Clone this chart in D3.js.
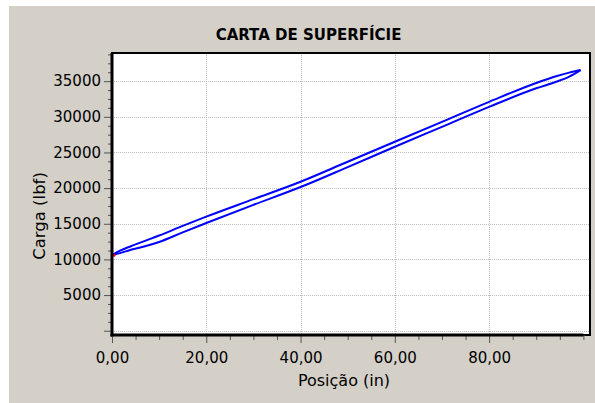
<!DOCTYPE html>
<html><head><meta charset="utf-8">
<script src="https://cdn.jsdelivr.net/npm/d3@7/dist/d3.min.js"></script>
<style>body{margin:0;background:#fff}svg{display:block}</style>
</head><body>
<script>
const title = "CARTA DE SUPERFÍCIE";
const xTitle = "Posição (in)";
const yTitle = "Carga (lbf)";
const xTickValues = [0, 20, 40, 60, 80];
const yTickValues = [0, 5000, 10000, 15000, 20000, 25000, 30000, 35000];
const positions = [0, 1.7, 4, 7, 10, 15, 20, 30, 40, 50, 60, 70, 80, 90, 94.4, 97, 99.4];
const upperLoad = [10600, 11220, 11850, 12600, 13350, 14700, 16000, 18450, 20900, 23700, 26500, 29300, 32100, 34750, 35720, 36200, 36560];
const lowerLoad = [10600, 10880, 11350, 11850, 12450, 13800, 15100, 17650, 20150, 22950, 25800, 28600, 31400, 34000, 34950, 35650, 36560];

const W = 595, H = 403;
const svg = d3.select("body").append("svg").attr("width", W).attr("height", H);
svg.append("rect").attr("x", 9).attr("y", 6).attr("width", W - 9).attr("height", H - 6).attr("fill", "#d4d0c8");

const L = 112, R = 590, T = 53, B = 335;
const x = d3.scaleLinear().domain([0, 101.4]).range([L, R]);
const y = d3.scaleLinear().domain([-600, 38950]).range([B, T]);

svg.append("rect").attr("x", L).attr("y", T).attr("width", R - L).attr("height", B - T).attr("fill", "#fff");

const font = "DejaVu Sans, Verdana, sans-serif";

// grid
const g = svg.append("g");
g.selectAll(".vg").data(xTickValues.filter(d => d > 0)).join("line")
  .attr("x1", d => Math.round(x(d)) + 0.5).attr("x2", d => Math.round(x(d)) + 0.5)
  .attr("y1", T).attr("y2", B)
  .attr("stroke", "#bdbdbd").attr("stroke-dasharray", "1,1");
g.selectAll(".hg").data(yTickValues).join("line")
  .attr("y1", d => Math.round(y(d)) + 0.5).attr("y2", d => Math.round(y(d)) + 0.5)
  .attr("x1", L).attr("x2", R)
  .attr("stroke", "#bdbdbd").attr("stroke-dasharray", "1,1");

// border
svg.append("rect").attr("x", L).attr("y", T).attr("width", R - L).attr("height", B - T)
  .attr("fill", "none").attr("stroke", "#000").attr("stroke-width", 2);

// data
const line = d3.line().x(d => x(d[0])).y(d => y(d[1])).curve(d3.curveMonotoneX);
const lowerPts = positions.map((p, i) => [p, lowerLoad[i]]);
const upperPts = positions.map((p, i) => [p, upperLoad[i]]);
[lowerPts, upperPts].forEach(pts => {
  svg.append("path").attr("d", line(pts))
    .attr("fill", "none").attr("stroke", "#0000ff").attr("stroke-width", 2).attr("stroke-linejoin", "round");
});
svg.append("circle").attr("cx", x(positions[0]) + 2).attr("cy", y(lowerLoad[0])).attr("r", 1.6).attr("fill", "#ff0000");

// Y axis
const yMinor = d3.range(0, 38950, 1250).filter(v => v % 5000 !== 0);
const yAxis = d3.axisLeft(y).tickValues(yTickValues).tickSize(8).tickPadding(3)
  .tickFormat(d => d === 0 ? "" : d3.format("d")(d));
const ya = svg.append("g").attr("transform", `translate(${L},0)`).call(yAxis);
ya.select(".domain").remove();
ya.selectAll(".tick line").attr("stroke", "#555");
ya.selectAll(".tick text").attr("font-family", font).attr("font-size", 15).attr("fill", "#000");
svg.append("g").attr("transform", `translate(${L},0)`)
  .call(d3.axisLeft(y).tickValues(yMinor).tickSize(4).tickFormat(""))
  .call(s => s.select(".domain").remove())
  .selectAll(".tick line").attr("stroke", "#555");
svg.append("line").attr("x1", L).attr("x2", L).attr("y1", T).attr("y2", B + 1.5)
  .attr("stroke", "#000").attr("stroke-width", 3);

// X axis
const xMinor = d3.range(5, 101, 5).filter(v => v % 20 !== 0 || v === 100);
const xAxis = d3.axisBottom(x).tickValues(xTickValues).tickSize(8).tickPadding(9)
  .tickFormat(d => d3.format(".2f")(d).replace(".", ","));
const xa = svg.append("g").attr("transform", `translate(0,${B})`).call(xAxis);
xa.select(".domain").remove();
xa.selectAll(".tick line").attr("stroke", "#555");
xa.selectAll(".tick text").attr("font-family", font).attr("font-size", 15).attr("fill", "#000");
svg.append("g").attr("transform", `translate(0,${B})`)
  .call(d3.axisBottom(x).tickValues(xMinor).tickSize(5).tickFormat(""))
  .call(s => s.select(".domain").remove())
  .selectAll(".tick line").attr("stroke", "#555");
svg.append("line").attr("x1", L - 1.5).attr("x2", x(100)).attr("y1", B).attr("y2", B)
  .attr("stroke", "#000").attr("stroke-width", 3);

// titles
svg.append("text").attr("x", 308.5).attr("y", 40).attr("text-anchor", "middle")
  .attr("font-family", font).attr("font-weight", "bold").attr("font-size", 15).text(title);
svg.append("text").attr("x", 344).attr("y", 386).attr("text-anchor", "middle")
  .attr("font-family", font).attr("font-size", 16).text(xTitle);
svg.append("text").attr("transform", "translate(45,216) rotate(-90)").attr("text-anchor", "middle")
  .attr("font-family", font).attr("font-size", 16.5).text(yTitle);
</script>
</body></html>
